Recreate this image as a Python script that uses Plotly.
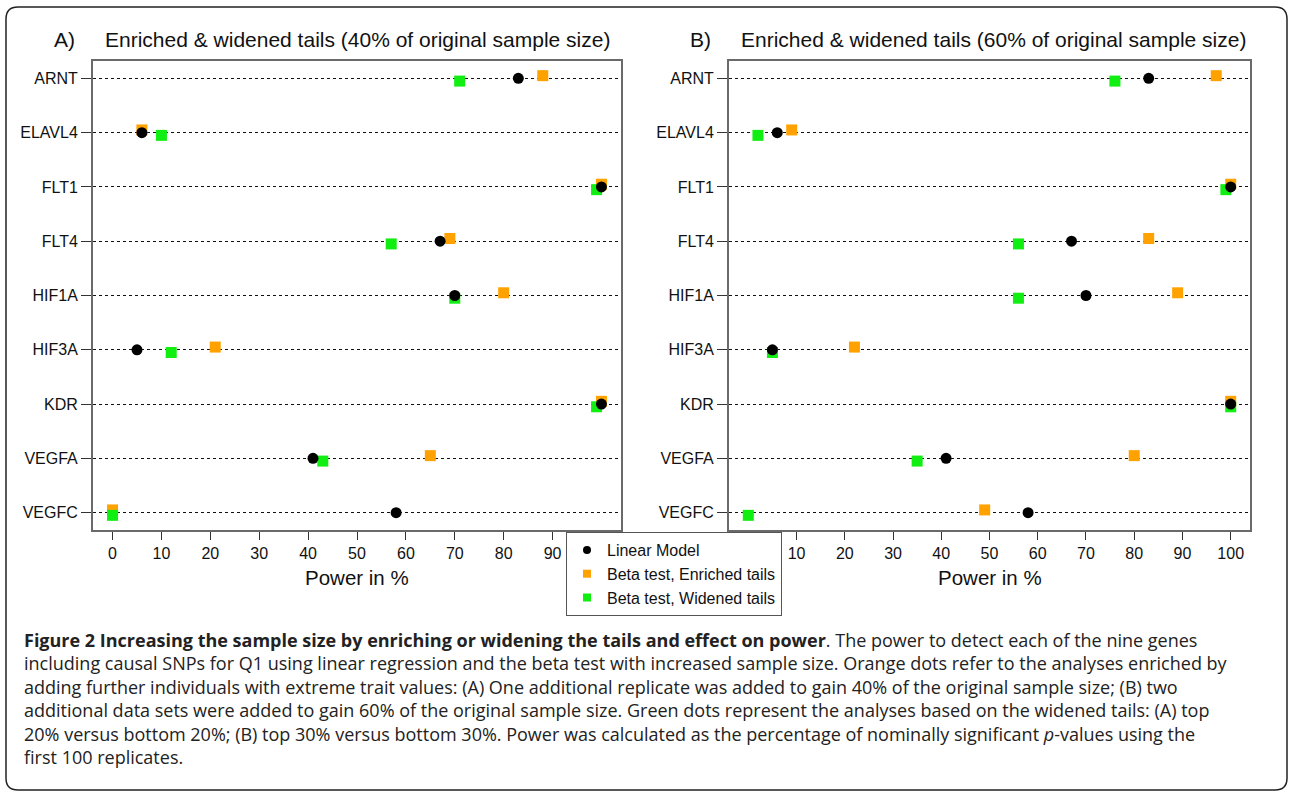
import plotly.graph_objects as go

# ---------------- data ----------------
genes = ["ARNT", "ELAVL4", "FLT1", "FLT4", "HIF1A", "HIF3A", "KDR", "VEGFA", "VEGFC"]
x_ticks_a = [0, 10, 20, 30, 40, 50, 60, 70, 80, 90]
x_ticks_b = [10, 20, 30, 40, 50, 60, 70, 80, 90, 100]

a_linear = [83, 6, 100, 67, 70, 5, 100, 41, 58]
a_enriched = [88, 6, 100, 69, 80, 21, 100, 65, 0]
a_widened = [71, 10, 99, 57, 70, 12, 99, 43, 0]

b_linear = [83, 6, 100, 67, 70, 5, 100, 41, 58]
b_enriched = [97, 9, 100, 83, 89, 22, 100, 80, 49]
b_widened = [76, 2, 99, 56, 56, 5, 100, 35, 0]

series_names = ["Linear Model", "Beta test, Enriched tails", "Beta test, Widened tails"]
panel_titles = ["Enriched & widened tails (40% of original sample size)",
                "Enriched & widened tails (60% of original sample size)"]
panel_letters = ["A)", "B)"]
x_title = "Power in %"

caption_lines = [
    "<b>Figure 2 Increasing the sample size by enriching or widening the tails and effect on power</b>. The power to detect each of the nine genes",
    "including causal SNPs for Q1 using linear regression and the beta test with increased sample size. Orange dots refer to the analyses enriched by",
    "adding further individuals with extreme trait values: (A) One additional replicate was added to gain 40% of the original sample size; (B) two",
    "additional data sets were added to gain 60% of the original sample size. Green dots represent the analyses based on the widened tails: (A) top",
    "20% versus bottom 20%; (B) top 30% versus bottom 30%. Power was calculated as the percentage of nominally significant <i>p</i>-values using the",
    "first 100 replicates.",
]

# ---------------- style ----------------
W, H = 1289, 792
COL_LIN = "black"
COL_ENR = "#FFA200"
COL_WID = "#11EE11"
FONT = "Liberation Sans, Arial, sans-serif"

def px(x):
    return x / W

def py(y):
    return 1 - y / H

ypos = list(range(len(genes)))
off = 0.05

fig = go.Figure()

panels = [
    (a_linear, a_enriched, a_widened, "x", "y"),
    (b_linear, b_enriched, b_widened, "x2", "y2"),
]
for lin, enr, wid, xa, ya in panels:
    fig.add_trace(go.Scatter(x=enr, y=[v - off for v in ypos], mode="markers",
                             marker=dict(symbol="square", size=11, color=COL_ENR),
                             xaxis=xa, yaxis=ya, showlegend=False, hoverinfo="x"))
    fig.add_trace(go.Scatter(x=wid, y=[v + off for v in ypos], mode="markers",
                             marker=dict(symbol="square", size=11, color=COL_WID),
                             xaxis=xa, yaxis=ya, showlegend=False, hoverinfo="x"))
    fig.add_trace(go.Scatter(x=lin, y=ypos, mode="markers",
                             marker=dict(symbol="circle", size=11, color=COL_LIN),
                             xaxis=xa, yaxis=ya, showlegend=False, hoverinfo="x"))

# legend-only entries
for name, sym, col in zip(series_names, ["circle", "square", "square"], [COL_LIN, COL_ENR, COL_WID]):
    fig.add_trace(go.Scatter(x=[None], y=[None], mode="markers", name=name,
                             marker=dict(symbol=sym, size=8, color=col),
                             xaxis="x", yaxis="y"))

ydom = [py(530), py(61)]
xdoms = [[px(93), px(621)], [px(729), px(1250)]]

xcommon = dict(range=[-4, 104], ticks="outside", ticklen=8,
               tickcolor="#333", tickwidth=1, showline=True, mirror=True,
               linecolor="#6a6a6a", linewidth=2, showgrid=False, zeroline=False,
               tickfont=dict(size=16, color="#111", family=FONT))
ycommon = dict(range=[len(genes) - 1 + 0.32, -0.32], tickvals=ypos, ticktext=genes,
               ticks="outside", ticklen=10, tickcolor="#333", tickwidth=1,
               showline=True, mirror=True, linecolor="#6a6a6a", linewidth=2,
               showgrid=True, gridcolor="#111", griddash="dot", gridwidth=1,
               zeroline=False, tickfont=dict(size=16, color="#111", family=FONT))

fig.update_layout(
    width=W, height=H,
    margin=dict(l=0, r=0, t=0, b=0),
    paper_bgcolor="white", plot_bgcolor="white",
    font=dict(family=FONT, color="#111"),
    xaxis=dict(domain=xdoms[0], anchor="y", tickvals=x_ticks_a, **xcommon),
    yaxis=dict(domain=ydom, anchor="x", **ycommon),
    xaxis2=dict(domain=xdoms[1], anchor="y2", tickvals=x_ticks_b, **xcommon),
    yaxis2=dict(domain=ydom, anchor="x2", **ycommon),
    legend=dict(x=px(566), y=py(532), xanchor="left", yanchor="top",
                bgcolor="white", bordercolor="#555", borderwidth=1,
                font=dict(size=16, family=FONT, color="#111"),
                itemwidth=30, tracegroupgap=0),
    showlegend=True,
)

annotations = []
title_x = [(64, 103), (700, 739)]
for (lx, tx), letter, title, xd in zip(title_x, panel_letters, panel_titles, xdoms):
    annotations.append(dict(text=letter, x=px(lx), y=py(40), xref="paper", yref="paper",
                            xanchor="center", yanchor="middle", showarrow=False,
                            font=dict(size=21, family=FONT, color="#111")))
    annotations.append(dict(text=title, x=px(tx), y=py(40), xref="paper", yref="paper",
                            xanchor="left", yanchor="middle", showarrow=False,
                            font=dict(size=21, family=FONT, color="#111")))
    annotations.append(dict(text=x_title, x=(xd[0] + xd[1]) / 2, y=py(577), xref="paper", yref="paper",
                            xanchor="center", yanchor="middle", showarrow=False,
                            font=dict(size=20.5, family=FONT, color="#111")))

annotations.append(dict(text="<br>".join(caption_lines), x=px(22), y=py(698.5),
                        xref="paper", yref="paper", xanchor="left", yanchor="middle",
                        align="left", showarrow=False,
                        font=dict(size=18, family="Open Sans, sans-serif", color="#222")))
fig.update_layout(annotations=annotations)

# outer rounded frame
x0, x1, y0, y1, r = 6, 1287, 7, 790, 12
def P(x, y):
    return f"{px(x):.5f},{py(y):.5f}"
path = (f"M {P(x0 + r, y0)} L {P(x1 - r, y0)} Q {P(x1, y0)} {P(x1, y0 + r)} "
        f"L {P(x1, y1 - r)} Q {P(x1, y1)} {P(x1 - r, y1)} "
        f"L {P(x0 + r, y1)} Q {P(x0, y1)} {P(x0, y1 - r)} "
        f"L {P(x0, y0 + r)} Q {P(x0, y0)} {P(x0 + r, y0)} Z")
fig.add_shape(type="path", path=path, xref="paper", yref="paper",
              line=dict(color="#222", width=1.5), layer="below")

fig.write_html("out.html", config={"displayModeBar": False},
               post_script="document.body.style.margin='0';document.body.style.overflow='hidden';")
